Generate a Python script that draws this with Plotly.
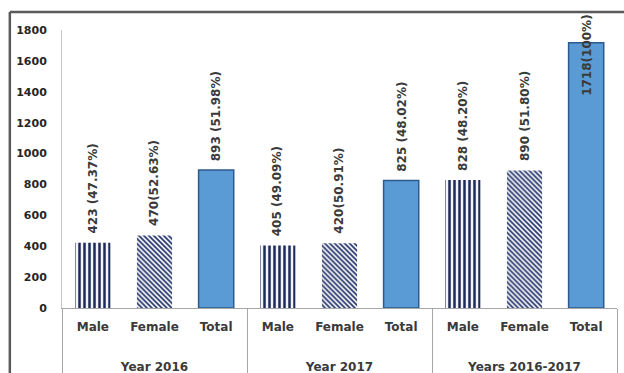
import plotly.graph_objects as go

groups = ["Year 2016", "Year 2016", "Year 2016",
          "Year 2017", "Year 2017", "Year 2017",
          "Years 2016-2017", "Years 2016-2017", "Years 2016-2017"]
sexes = ["Male", "Female", "Total"] * 3
values = [423, 470, 893, 405, 420, 825, 828, 890, 1718]
labels = ["423 (47.37%)", "470(52.63%)", "893 (51.98%)",
          "405 (49.09%)", "420(50.91%)", "825 (48.02%)",
          "828 (48.20%)", "890 (51.80%)", "1718(100%)"]
y_ticks = [0, 200, 400, 600, 800, 1000, 1200, 1400, 1600, 1800]

NAVY = "#1c2a58"
BLUE = "#5b9bd5"
EDGE = "#2c5a8c"
FONT = "DejaVu Sans"
TXT = "#3a3a3a"

# leading line breaks push the group row further below the category row
group_text = ["<br><br>" + g for g in groups]

styles = {
    "Male": dict(color="white", line=dict(width=0),
                 pattern=dict(shape="|", fgcolor=NAVY, bgcolor="#f4f4fa",
                              size=5, solidity=0.5, fillmode="replace")),
    "Female": dict(color="white", line=dict(width=0),
                   pattern=dict(shape="\\", fgcolor="#24346a", bgcolor="white",
                                size=3.5, solidity=0.5, fillmode="replace")),
    "Total": dict(color=BLUE, line=dict(color=EDGE, width=1.5)),
}

fig = go.Figure()
for kind in ["Male", "Female", "Total"]:
    yk = [v if s == kind else None for v, s in zip(values, sexes)]
    fig.add_trace(go.Bar(
        x=[group_text, sexes], y=yk, width=0.57,
        marker=styles[kind], showlegend=False, name=kind,
    ))

# value labels
last = len(values) - 1
for i, (v, lab) in enumerate(zip(values, labels)):
    if i == last:
        fig.add_annotation(x=i, y=v, xref="x", yref="y", text=lab, textangle=-90,
                           showarrow=False, xanchor="center", yanchor="middle",
                           yshift=-13,
                           font=dict(family=FONT, size=12, color=TXT, weight="bold"))
    else:
        fig.add_annotation(x=i, y=v, xref="x", yref="y", text=lab, textangle=-90,
                           showarrow=False, xanchor="center", yanchor="bottom",
                           yshift=7,
                           font=dict(family=FONT, size=12, color=TXT, weight="bold"))

# outer frame
fig.add_shape(type="line", xref="paper", yref="paper", x0=-0.094, x1=1.02,
              y0=1.065, y1=1.065, line=dict(color="#5a5a5a", width=2.5))
fig.add_shape(type="line", xref="paper", yref="paper", x0=-0.094, x1=-0.094,
              y0=1.065, y1=-0.3, line=dict(color="#5a5a5a", width=2.5))

fig.update_layout(
    width=624, height=373,
    margin=dict(l=62, r=7, t=30, b=65, autoexpand=False),
    paper_bgcolor="white", plot_bgcolor="white",
    barmode="overlay",
    font=dict(family=FONT, color=TXT),
)
fig.update_yaxes(range=[0, 1800], tickvals=y_ticks, showgrid=False,
                 showline=True, linecolor="#c8c8c8", linewidth=1,
                 zeroline=False, ticks="", ticklabelstandoff=12, automargin=False,
                 tickfont=dict(family=FONT, size=11, color="#262626", weight="bold"))
fig.update_xaxes(showline=True, linecolor="#a6a6a6", linewidth=1,
                 showdividers=True, dividercolor="#a6a6a6", dividerwidth=1,
                 ticklabelstandoff=8, automargin=False,
                 tickfont=dict(family=FONT, size=12, color=TXT, weight="bold"))

fig.write_html("out.html")
